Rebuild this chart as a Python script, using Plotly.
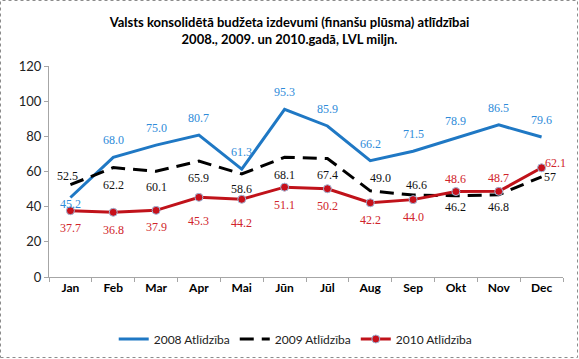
import plotly.graph_objects as go

months = ["Jan", "Feb", "Mar", "Apr", "Mai", "Jūn", "Jūl", "Aug", "Sep", "Okt", "Nov", "Dec"]
s2008 = [45.2, 68.0, 75.0, 80.7, 61.3, 95.3, 85.9, 66.2, 71.5, 78.9, 86.5, 79.6]
s2009 = [52.5, 62.2, 60.1, 65.9, 58.6, 68.1, 67.4, 49.0, 46.6, 46.2, 46.8, 57]
s2010 = [37.7, 36.8, 37.9, 45.3, 44.2, 51.1, 50.2, 42.2, 44.0, 48.6, 48.7, 62.1]
t2008 = ["45.2", "68.0", "75.0", "80.7", "61.3", "95.3", "85.9", "66.2", "71.5", "78.9", "86.5", "79.6"]
t2009 = ["52.5", "62.2", "60.1", "65.9", "58.6", "68.1", "67.4", "49.0", "46.6", "46.2", "46.8", "57"]
t2010 = ["37.7", "36.8", "37.9", "45.3", "44.2", "51.1", "50.2", "42.2", "44.0", "48.6", "48.7", "62.1"]
names = ["2008 Atlīdzība", "2009 Atlīdzība", "2010 Atlīdzība"]
title_text = "Valsts konsolidētā budžeta izdevumi (finanšu plūsma) atlīdzībai<br>2008., 2009. un 2010.gadā, LVL miljn."

# label offsets (style, pixels)
sh2008 = [(0, -6)] + [(0, 17)] * 11
sh2009 = [(-3, 9), (0, -17), (0, -16), (0, -17), (0, -15), (0, -18), (0, -17),
          (10, 13), (3, 10), (0, -11), (0, -12), (8, 0)]
sh2010 = [(0, -17), (0, -18), (0, -17), (0, -24), (0, -24), (0, -18), (0, -17),
          (0, -17), (0, -17), (0, 13), (0, 13), (14, 5)]

BLUE = "#1f78c4"
BLUE_T = "#2e8bd9"
RED = "#c0121a"
RED_T = "#d0242a"

fig = go.Figure()
fig.add_trace(go.Scatter(x=months, y=s2008, mode="lines", name=names[0],
                         line=dict(color=BLUE, width=3)))
fig.add_trace(go.Scatter(x=months, y=s2009, mode="lines", name=names[1],
                         line=dict(color="#000000", width=3, dash="14px,8px")))
fig.add_trace(go.Scatter(x=months, y=s2010, mode="lines+markers", name=names[2],
                         line=dict(color=RED, width=3),
                         marker=dict(size=8, color="#c8101a", line=dict(color="#9fb8d8", width=1))))

annotations = []
for vals, texts, shifts, col in [(s2008, t2008, sh2008, BLUE_T),
                                 (s2009, t2009, sh2009, "#111111"),
                                 (s2010, t2010, sh2010, RED_T)]:
    for m, v, t, (dx, dy) in zip(months, vals, texts, shifts):
        annotations.append(dict(x=m, y=v, text=t, showarrow=False, xshift=dx, yshift=dy,
                                font=dict(family="Liberation Serif", size=12, color=col)))

fig.update_layout(
    template="none",
    width=579, height=359,
    margin=dict(l=49, r=16, t=66, b=82, autoexpand=False),
    paper_bgcolor="white", plot_bgcolor="white",
    title=dict(text=title_text, x=0.5, xanchor="center", y=1 - 27 / 359, yanchor="middle",
               yref="container",
               font=dict(family="Lato", size=13, color="#000000", weight="bold")),
    xaxis=dict(showgrid=False, showline=True, linecolor="#a6a6a6", linewidth=1, automargin=False,
               ticks="outside", tickson="boundaries", ticklen=4, tickcolor="#a6a6a6",
               tickfont=dict(family="Lato", size=12, color="#000000", weight="bold"),
               range=[-0.5, 11.5]),
    yaxis=dict(range=[0, 120], dtick=20, showgrid=False, showline=True, linecolor="#a6a6a6",
               linewidth=1, ticks="outside", ticklen=4, tickcolor="#a6a6a6", zeroline=False,
               automargin=False,
               tickfont=dict(family="Lato", size=13, color="#222222")),
    legend=dict(orientation="h", x=0.48, xanchor="center", y=-(339 - 277) / 211, yanchor="middle",
                font=dict(family="Lato", size=12, color="#222222"), bgcolor="rgba(0,0,0,0)"),
    annotations=annotations,
    shapes=[dict(type="rect", xref="paper", yref="paper",
                 x0=-48.5 / 514, x1=1 + 14.5 / 514, y0=-80.5 / 211, y1=1 + 65.5 / 211,
                 line=dict(color="#8c8c8c", width=1, dash="dot"))],
    showlegend=True,
)

fig.write_html("out.html", post_script="document.body.style.margin='0';",
               config={"displayModeBar": False})
